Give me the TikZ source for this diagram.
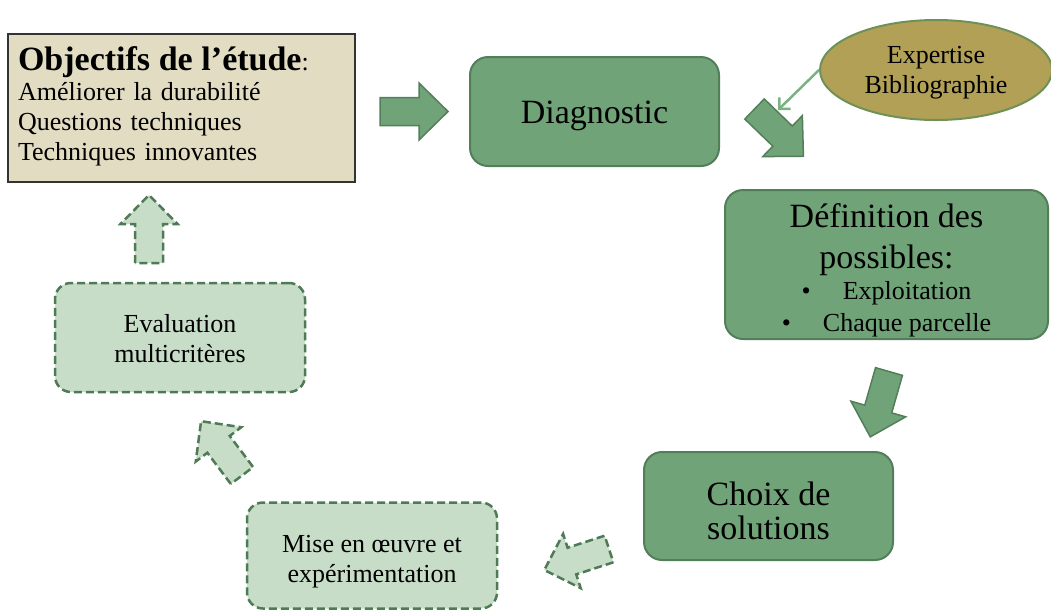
\documentclass[tikz,border=0pt]{standalone}
\usepackage{fontspec}
\setmainfont{Liberation Serif}
\usepackage{tikz}
\usetikzlibrary{arrows.meta,shapes.geometric}
\definecolor{boxGreen}{HTML}{70A378}
\definecolor{lineGreen}{HTML}{527F59}
\definecolor{paleGreen}{HTML}{C7DDC8}
\definecolor{dashGreen}{HTML}{4F7A56}
\definecolor{goalBeige}{HTML}{E1DCC2}
\definecolor{olive}{HTML}{B1A056}
\definecolor{oliveLine}{HTML}{6F9157}
\definecolor{linkGreen}{HTML}{77B482}

\newcommand{\fatarrow}[3]{%
  \path[#1,shift={#2},rotate=#3]
    (0,-14) -- (39,-14) -- (39,-28.5) -- (68,0) -- (39,28.5) -- (39,14) -- (0,14) -- cycle;}

\begin{document}
\begin{tikzpicture}[x=1pt,y=-1pt,
big/.style={font=\fontsize{34}{41}\selectfont},
small/.style={font=\fontsize{26}{30}\selectfont},
goal/.style={draw=black!80,line width=1.5pt,fill=goalBeige,text width=327pt,align=left,inner xsep=10pt,inner ysep=0pt,minimum height=148pt},
stage/.style={draw=lineGreen,line width=2pt,fill=boxGreen,rounded corners=18pt,align=center,inner sep=0pt},
plan/.style={draw=dashGreen,line width=2.5pt,dash pattern=on 8pt off 4pt,fill=paleGreen,rounded corners=16pt,align=center,inner sep=0pt},
fullarrow/.style={draw=lineGreen,line width=1.5pt,fill=boxGreen},
planarrow/.style={draw=dashGreen,line width=2.5pt,dash pattern=on 8pt off 4pt,fill=paleGreen},
link/.style={draw=linkGreen,line width=2.5pt,-{Straight Barb[length=8pt,width=16pt]}},
]
\useasboundingbox (0,0) rectangle (1051,614);

\node[goal,small,text height=19.7pt] (goal) at (181.5,108) {{\fontsize{34}{30}\selectfont\bfseries Objectifs de l’étude}:\\Améliorer la durabilité\\Questions techniques\\Techniques innovantes};
\node[stage,big,text height=30.4pt,minimum width=249pt,minimum height=109pt] (diag) at (594.5,111.5) {Diagnostic};
\node[stage,big,text height=138.7pt,minimum width=323pt,minimum height=149pt] (def) at (886.5,264.5)
  {Définition des\\possibles:\\[-10pt]
   {\fontsize{26}{30}\selectfont\textbullet\hspace{32pt}Exploitation}\\[-9pt]
   {\fontsize{26}{30}\selectfont\textbullet\hspace{32pt}Chaque parcelle}};
\node[stage,font=\fontsize{34}{34}\selectfont,text height=68pt,minimum width=249pt,minimum height=108pt] (choice) at (768.5,506) {Choix de\\solutions};
\node[plan,small,text height=58.7pt,minimum width=250pt,minimum height=106pt] (impl) at (372,555.5) {Mise en œuvre et\\expérimentation};
\node[plan,small,text height=51pt,minimum width=250pt,minimum height=109pt] (eval) at (180,337.5) {Evaluation\\multicritères};
\node[ellipse,draw=oliveLine,line width=2pt,fill=olive,small,text height=51.7pt,minimum width=232pt,minimum height=100pt,inner sep=0pt,align=center] (exp) at (936,70) {Expertise\\Bibliographie};

\fatarrow{fullarrow}{(380,111.5)}{0}
\fatarrow{fullarrow}{(754.5,109)}{-44}
\fatarrow{fullarrow}{(889,371.5)}{-106}
\fatarrow{planarrow}{(609,549)}{198}
\fatarrow{planarrow}{(242,475.5)}{127}
\fatarrow{planarrow}{(149,263)}{90}

\coordinate (hit) at (778,110);
\draw[link] (exp.west) -- (hit);
\end{tikzpicture}
\end{document}
